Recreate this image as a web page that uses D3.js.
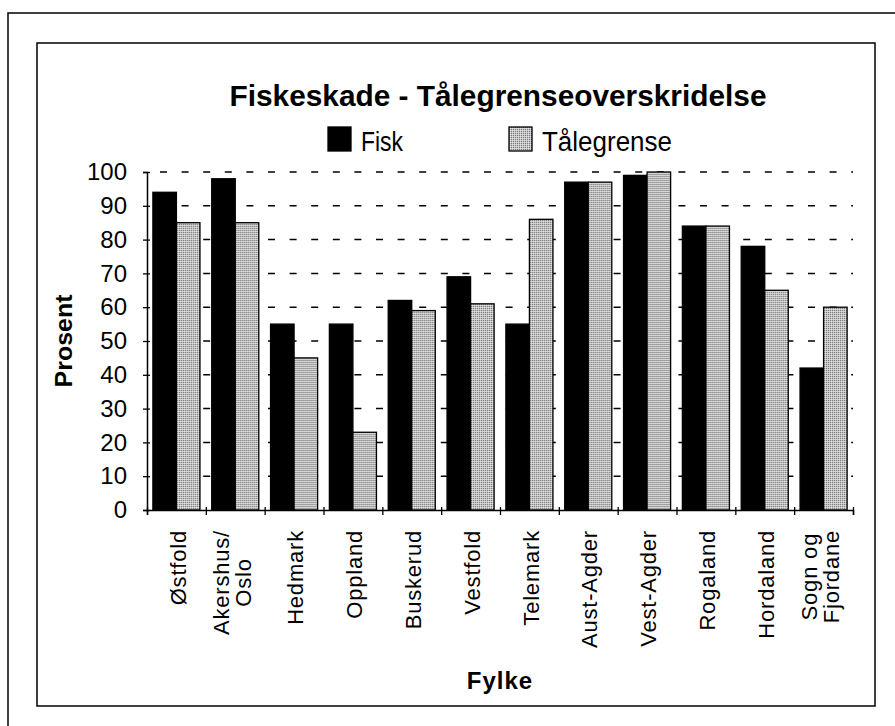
<!DOCTYPE html>
<meta charset="utf-8">
<style>
body { margin: 0; background: #fff; }
svg text { font-family: "Liberation Sans", Arial, sans-serif; fill: #000; }
</style>
<script src="https://cdn.jsdelivr.net/npm/d3@7"></script>
<div id="chart"></div>
<script>

// data
var categories = ["Østfold", "Akershus/\nOslo", "Hedmark", "Oppland", "Buskerud", "Vestfold",
  "Telemark", "Aust-Agder", "Vest-Agder", "Rogaland", "Hordaland", "Sogn og\nFjordane"];
var fisk = [94, 98, 55, 55, 62, 69, 55, 97, 99, 84, 78, 42];
var talegrense = [85, 85, 45, 23, 59, 61, 86, 97, 100, 84, 65, 60];
var seriesNames = ["Fisk", "Tålegrense"];
var yTicks = [0, 10, 20, 30, 40, 50, 60, 70, 80, 90, 100];

var W = 895, H = 726;
var plot = {left: 147, right: 853, top: 172, bottom: 510};

var svg = d3.select("#chart").append("svg")
  .attr("width", W)
  .attr("height", H);

svg.append("rect").attr("width", W).attr("height", H).attr("fill", "#fff");

// stippled grey fill
var defs = svg.append("defs");
var pat = defs.append("pattern")
  .attr("id", "stipple")
  .attr("width", 2).attr("height", 2)
  .attr("patternUnits", "userSpaceOnUse");
pat.append("rect").attr("width", 2).attr("height", 2).attr("fill", "#c6c6c6");
pat.append("rect").attr("width", 1).attr("height", 1).attr("fill", "#7a7a7a");
pat.append("rect").attr("x", 1).attr("y", 1).attr("width", 1).attr("height", 1).attr("fill", "#e2e2e2");

// frames
svg.append("rect")
  .attr("x", 8).attr("y", 13).attr("width", 900).attr("height", 800)
  .attr("fill", "none").attr("stroke", "#000").attr("stroke-width", 1.5);
svg.append("rect")
  .attr("x", 37).attr("y", 43).attr("width", 838).attr("height", 663)
  .attr("fill", "none").attr("stroke", "#000").attr("stroke-width", 1.5);

// scales
var x = d3.scaleBand()
  .domain(categories)
  .range([plot.left, plot.right])
  .paddingInner(0.2)
  .paddingOuter(0.1);
var xSub = d3.scaleBand()
  .domain(seriesNames)
  .range([0, x.bandwidth()]);
var xEdge = d3.scaleLinear()
  .domain([0, categories.length])
  .range([plot.left, plot.right]);
var y = d3.scaleLinear()
  .domain([0, 100])
  .range([plot.bottom, plot.top]);

// dashed gridlines
svg.append("g")
  .selectAll("line")
  .data(yTicks.slice(1))
  .join("line")
    .attr("x1", plot.left)
    .attr("x2", plot.right)
    .attr("y1", function(d) { return y(d); })
    .attr("y2", function(d) { return y(d); })
    .attr("stroke", "#000")
    .attr("stroke-width", 1.5)
    .attr("stroke-dasharray", "7,14.6")
    .attr("stroke-dashoffset", -13);

// bars
var groups = svg.append("g")
  .selectAll("g")
  .data(categories.map(function(c, i) { return {cat: c, vals: [fisk[i], talegrense[i]]}; }))
  .join("g")
    .attr("transform", function(d) { return "translate(" + x(d.cat) + ",0)"; });

groups.selectAll("rect")
  .data(function(d) { return d.vals.map(function(v, j) { return {name: seriesNames[j], v: v}; }); })
  .join("rect")
    .attr("x", function(d) { return xSub(d.name); })
    .attr("y", function(d) { return y(d.v); })
    .attr("width", xSub.bandwidth())
    .attr("height", function(d) { return y(0) - y(d.v); })
    .attr("fill", function(d) { return d.name === "Fisk" ? "#000" : "url(#stipple)"; })
    .attr("stroke", "#000")
    .attr("stroke-width", 1.3);

// y axis with crossing ticks
var yAxis = svg.append("g")
  .attr("transform", "translate(" + plot.left + ",0)")
  .call(d3.axisLeft(y).tickValues(yTicks).tickSize(4).tickPadding(16));
yAxis.select(".domain").attr("stroke-width", 1.5);
yAxis.selectAll(".tick line").attr("x1", 3).attr("stroke-width", 1.3);
yAxis.selectAll(".tick text")
  .attr("font-family", "Liberation Sans, Arial, sans-serif")
  .attr("font-size", 24);

// x axis: ticks at the category edges
var xAxis = svg.append("g")
  .attr("transform", "translate(0," + plot.bottom + ")")
  .call(d3.axisBottom(xEdge).ticks(categories.length).tickSize(5).tickFormat(""));
xAxis.select(".domain").attr("stroke-width", 1.5);
xAxis.selectAll(".tick line").attr("y1", -3).attr("stroke-width", 1.3);

// category labels, rotated
var labelTop = 530, lh = 22;
var lab = svg.append("g").selectAll("g")
  .data(categories)
  .join("g");
lab.each(function(c) {
  var lines = c.split("\n");
  var g = d3.select(this);
  var cx = x(c) + x.bandwidth() / 2;
  if (lines.length === 1) {
    g.append("text")
      .attr("transform", "translate(" + (cx + 1.5) + "," + labelTop + ") rotate(-90)")
      .attr("text-anchor", "end")
      .attr("dy", "0.35em")
      .attr("font-size", 22)
      .attr("letter-spacing", 0.8)
      .text(lines[0]);
  } else {
    var ts = lines.map(function(t, i) {
      return g.append("text")
        .attr("text-anchor", "middle")
        .attr("dy", "0.35em")
        .attr("font-size", 22)
        .attr("letter-spacing", 0.8)
        .text(t);
    });
    var longest = d3.max(ts, function(t) { return t.node().getComputedTextLength(); });
    var cy = labelTop + longest / 2;
    ts.forEach(function(t, i) {
      var off = (i - (lines.length - 1) / 2) * lh - 3;
      t.attr("transform", "translate(" + (cx + off) + "," + cy + ") rotate(-90)");
    });
  }
});

// title
svg.append("text")
  .attr("x", 498).attr("y", 106)
  .attr("text-anchor", "middle")
  .attr("font-size", 29)
  .attr("font-weight", "bold")
  .attr("textLength", 537)
  .attr("lengthAdjust", "spacingAndGlyphs")
  .text("Fiskeskade - Tålegrenseoverskridelse");

// legend
var legendX = [328, 509];
var legendW = [42, 130];
var leg = svg.append("g").selectAll("g")
  .data(seriesNames)
  .join("g")
    .attr("transform", function(d, i) { return "translate(" + legendX[i] + ",127)"; });
leg.append("rect")
  .attr("width", 23).attr("height", 24)
  .attr("fill", function(d) { return d === "Fisk" ? "#000" : "url(#stipple)"; })
  .attr("stroke", "#000").attr("stroke-width", 1.3);
leg.append("text")
  .attr("x", 33).attr("y", 24)
  .attr("font-size", 27)
  .attr("textLength", function(d, i) { return legendW[i]; })
  .attr("lengthAdjust", "spacingAndGlyphs")
  .text(function(d) { return d; });

// axis titles
svg.append("text")
  .attr("transform", "translate(72,341) rotate(-90)")
  .attr("text-anchor", "middle")
  .attr("font-size", 24)
  .attr("font-weight", "bold")
  .attr("textLength", 93)
  .attr("lengthAdjust", "spacingAndGlyphs")
  .text("Prosent");

svg.append("text")
  .attr("x", (plot.left + plot.right) / 2).attr("y", 689)
  .attr("text-anchor", "middle")
  .attr("font-size", 24)
  .attr("font-weight", "bold")
  .attr("letter-spacing", 1)
  .text("Fylke");

</script>
